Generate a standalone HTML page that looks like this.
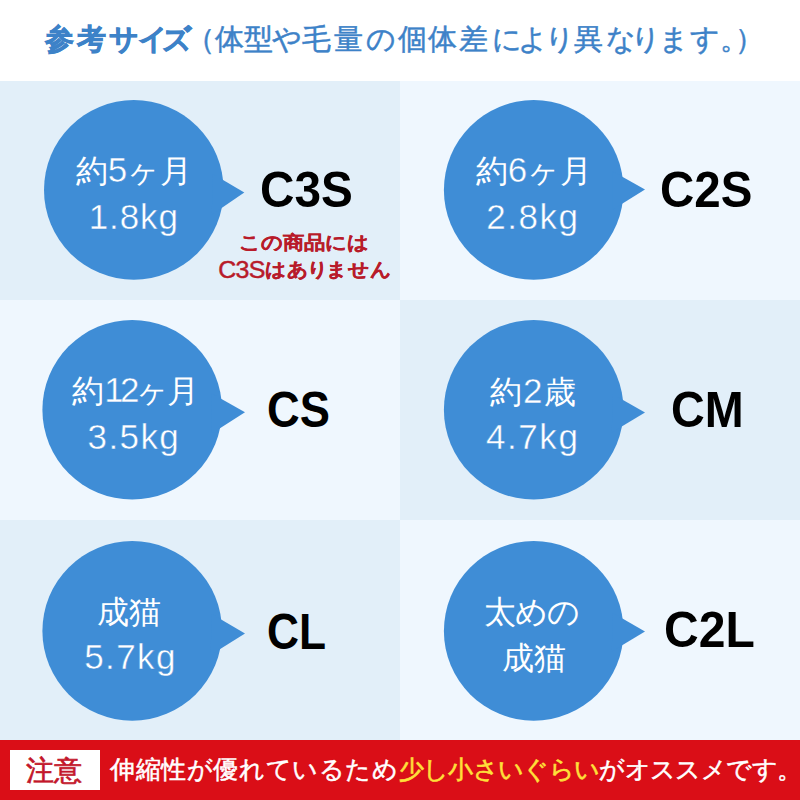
<!DOCTYPE html>
<html lang="ja">
<head>
<meta charset="utf-8">
<style>
html,body{margin:0;padding:0;}
body{width:800px;height:800px;position:relative;overflow:hidden;background:#ffffff;font-family:"Liberation Sans",sans-serif;}
.t{position:absolute;white-space:nowrap;transform-origin:0 0;}
.ct{font-size:32px;line-height:35px;color:#fff;}
.nm{font-size:35px;line-height:35px;color:#fff;}
.lab{font-size:50px;line-height:50px;font-weight:bold;color:#000;}
.red{font-size:21px;line-height:21px;font-weight:bold;color:#b81b2a;}
.title{font-size:29px;line-height:29px;color:#3d82c8;}
.chu{font-size:28px;line-height:28px;font-weight:normal;color:#c3162a;-webkit-text-stroke:0.7px #c3162a;}
.note{font-size:25px;line-height:25px;font-weight:normal;color:#fff;letter-spacing:0.6px;}

.ct .d{font-size:35px;}
.nm,.ct .d{-webkit-text-stroke:0.45px #3f8dd6;}
.title{-webkit-text-stroke:0.5px #3d82c8;}
.title b{font-weight:bold;-webkit-text-stroke:0.7px #3d82c8;}
.red{-webkit-text-stroke:0.3px #b81b2a;}
.red .rl{position:relative;top:1.6px;font-weight:normal;font-size:25px;letter-spacing:-0.8px;-webkit-text-stroke:0.5px #b81b2a;}
.note{-webkit-text-stroke:0.5px #fff;}
.note .y{color:#ffe03a;letter-spacing:-0.65px;-webkit-text-stroke:0.6px #ffe03a;}
.note .w{letter-spacing:-0.65px;}
</style>
</head>
<body>
<div style="position:absolute;left:0px;top:81px;width:400px;height:219px;background:#e2eff9;"></div>
<div style="position:absolute;left:400px;top:81px;width:400px;height:219px;background:#eff7fe;"></div>
<div style="position:absolute;left:0px;top:300px;width:400px;height:220px;background:#eff7fe;"></div>
<div style="position:absolute;left:400px;top:300px;width:400px;height:220px;background:#e2eff9;"></div>
<div style="position:absolute;left:0px;top:520px;width:400px;height:220px;background:#e2eff9;"></div>
<div style="position:absolute;left:400px;top:520px;width:400px;height:220px;background:#eff7fe;"></div>
<svg style="position:absolute;left:0;top:0" width="800" height="800" viewBox="0 0 800 800"><circle cx="133.80" cy="189.90" r="89.80" fill="#3f8dd6"/><circle cx="533.70" cy="189.90" r="89.80" fill="#3f8dd6"/><circle cx="132.20" cy="409.80" r="89.80" fill="#3f8dd6"/><circle cx="533.70" cy="409.80" r="89.80" fill="#3f8dd6"/><circle cx="132.20" cy="630.90" r="89.80" fill="#3f8dd6"/><circle cx="533.70" cy="630.90" r="89.80" fill="#3f8dd6"/><polygon points="212.9,173.97 244.3,192.6 211.75,214.83" fill="#3f8dd6"/><polygon points="612.5,171.26 645,189.6 612.5,209.68" fill="#3f8dd6"/><polygon points="211.75,393.44 245,412.25 211.0,434.0" fill="#3f8dd6"/><polygon points="612.9,394.15 645,412.6 611.75,432.48" fill="#3f8dd6"/><polygon points="211.75,614.09 245,633.4 210.6,655.04" fill="#3f8dd6"/><polygon points="612.9,612.98 645,631.5 611.75,651.38" fill="#3f8dd6"/></svg>
<div style="position:absolute;left:0;top:740px;width:800px;height:60px;background:#da0e17;"></div>
<div style="position:absolute;left:10px;top:750px;width:89.5px;height:40px;background:#fff;"></div>
<div class="t ct" style="left:75.70px;top:151.80px;">約<span class='d'>5</span>ヶ月</div>
<div class="t nm" style="left:88.70px;top:198.60px;letter-spacing:0.9px;">1.8kg</div>
<div class="t ct" style="left:475.70px;top:151.80px;">約<span class='d'>6</span>ヶ月</div>
<div class="t nm" style="left:486.25px;top:198.60px;letter-spacing:1.5px;">2.8kg</div>
<div class="t ct" style="left:72.30px;top:372.00px;">約<span class='d' style='letter-spacing:-3.7px'>1</span><span class='d' style='letter-spacing:-4px'>2</span><span style='letter-spacing:-2px'>ヶ</span>月</div>
<div class="t nm" style="left:87.60px;top:418.60px;letter-spacing:1.4px;">3.5kg</div>
<div class="t ct" style="left:489.50px;top:373.00px;"><span style='letter-spacing:1.5px'>約<span class='d'>2</span></span>歳</div>
<div class="t nm" style="left:485.90px;top:418.60px;letter-spacing:1.6px;">4.7kg</div>
<div class="t ct" style="left:97.40px;top:595.00px;">成猫</div>
<div class="t nm" style="left:84.20px;top:638.60px;letter-spacing:1.4px;">5.7kg</div>
<div class="t ct" style="left:484.25px;top:595.00px;letter-spacing:-1px;">太めの</div>
<div class="t ct" style="left:501.50px;top:640.70px;">成猫</div>
<div class="t lab" style="left:260.20px;top:165.25px;transform:scaleX(0.954);">C3S</div>
<div class="t lab" style="left:660.00px;top:164.80px;transform:scaleX(0.949);">C2S</div>
<div class="t lab" style="left:266.75px;top:384.80px;transform:scaleX(0.906);">CS</div>
<div class="t lab" style="left:670.50px;top:384.80px;transform:scaleX(0.935);">CM</div>
<div class="t lab" style="left:266.75px;top:606.75px;transform:scaleX(0.886);">CL</div>
<div class="t lab" style="left:663.75px;top:604.80px;transform:scaleX(0.961);">C2L</div>
<div class="t red" style="left:238.90px;top:232.70px;transform:scaleY(0.89);">この商品には</div>
<div class="t red" style="left:218.30px;top:259.10px;transform:scaleY(0.92);"><span class="rl">C3S</span>は<span style="letter-spacing:-1.5px">あ</span><span style="letter-spacing:-3px">り</span>ません</div>
<div class="t title" style="left:45.40px;top:25.00px;"><b>参</b></div>
<div class="t title" style="left:76.60px;top:25.00px;"><b>考</b></div>
<div class="t title" style="left:108.50px;top:25.00px;"><b>サ</b></div>
<div class="t title" style="left:137.50px;top:25.00px;"><b>イ</b></div>
<div class="t title" style="left:161.50px;top:25.00px;"><b>ズ</b></div>
<div class="t title" style="left:186.00px;top:25.00px;">（</div>
<div class="t title" style="left:214.50px;top:25.00px;">体</div>
<div class="t title" style="left:243.50px;top:25.00px;">型</div>
<div class="t title" style="left:271.50px;top:25.00px;">や</div>
<div class="t title" style="left:302.25px;top:25.00px;">毛</div>
<div class="t title" style="left:333.50px;top:25.00px;">量</div>
<div class="t title" style="left:366.00px;top:25.00px;">の</div>
<div class="t title" style="left:397.75px;top:25.00px;">個</div>
<div class="t title" style="left:428.00px;top:25.00px;">体</div>
<div class="t title" style="left:459.10px;top:25.00px;">差</div>
<div class="t title" style="left:491.75px;top:25.00px;">に</div>
<div class="t title" style="left:518.40px;top:25.00px;">よ</div>
<div class="t title" style="left:545.20px;top:25.00px;">り</div>
<div class="t title" style="left:574.15px;top:25.00px;">異</div>
<div class="t title" style="left:605.75px;top:25.00px;">な</div>
<div class="t title" style="left:631.20px;top:25.00px;">り</div>
<div class="t title" style="left:659.40px;top:25.00px;">ま</div>
<div class="t title" style="left:690.30px;top:25.00px;">す</div>
<div class="t title" style="left:719.75px;top:25.00px;">。</div>
<div class="t title" style="left:734.50px;top:25.00px;">）</div>
<div class="t chu" style="left:26.25px;top:757.00px;">注意</div>
<div class="t note" style="left:110.00px;top:756.50px;">伸縮性が優れているため<span class="y">少し小さいぐらい</span><span class="w">がオススメです。</span></div>
</body>
</html>
